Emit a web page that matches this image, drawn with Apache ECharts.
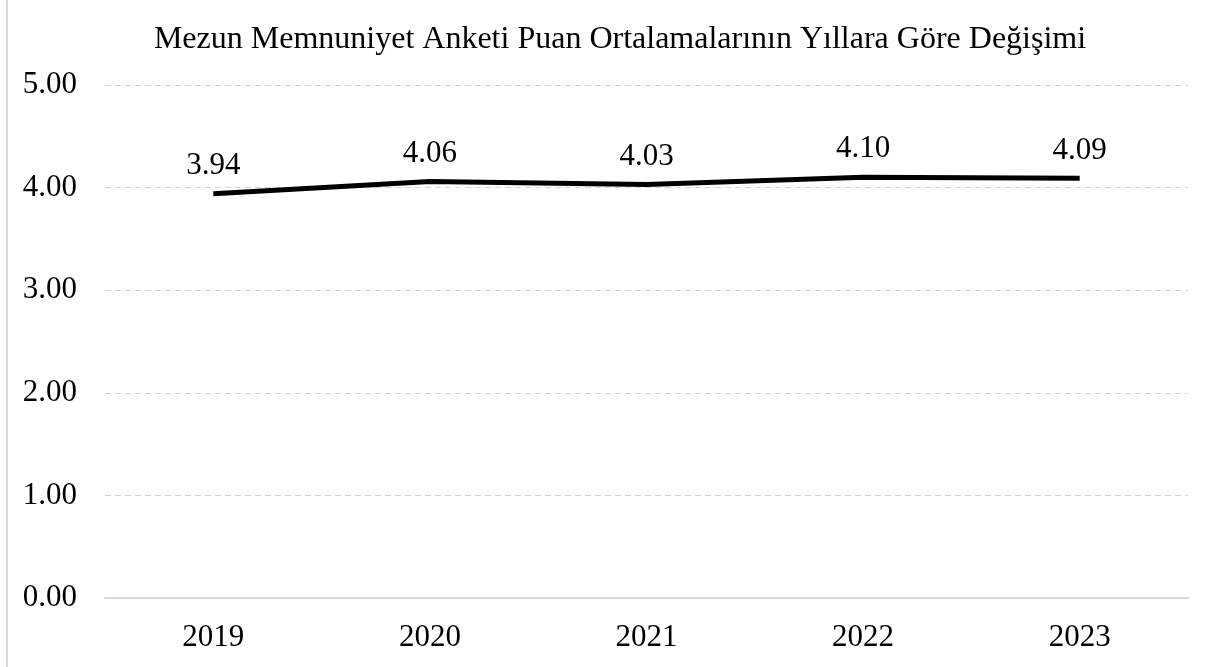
<!DOCTYPE html>
<html><head><meta charset="utf-8">
<style>html,body{margin:0;padding:0;background:#fff}#c{width:1211px;height:667px;box-sizing:border-box;}
#frame{position:absolute;left:6px;top:0;width:2px;height:667px;background:#d9d9d9}</style>
<script src="https://cdn.jsdelivr.net/npm/echarts@6/dist/echarts.min.js"></script>
</head><body><div id="c"></div><div id="frame"></div>
<script>
const title = 'Mezun Memnuniyet Anketi Puan Ortalamalarının Yıllara Göre Değişimi';
const years = ['2019', '2020', '2021', '2022', '2023'];
const scores = [3.94, 4.06, 4.03, 4.10, 4.09];
const font = '"Liberation Serif", "Times New Roman", serif';
const chart = echarts.init(document.getElementById('c'));
chart.setOption({
  animation: false,
  textStyle: {fontFamily: font},
  title: {text: title, left: 615, top: 19, textAlign: 'center',
    textStyle: {fontFamily: font, fontSize: 32, fontWeight: 'normal', color: '#000'}},
  grid: {left: 105, right: 23, top: 85, bottom: 69},
  xAxis: {type: 'category', data: years, boundaryGap: true,
    axisLine: {lineStyle: {color: '#d9d9d9', width: 2}},
    axisTick: {show: false},
    axisLabel: {color: '#000', fontSize: 31, fontFamily: font, margin: 24}},
  yAxis: {type: 'value', min: 0, max: 5, interval: 1,
    axisLine: {show: false}, axisTick: {show: false},
    axisLabel: {color: '#000', fontSize: 31, fontFamily: font, margin: 28,
      padding: [5, 0, 0, 0], formatter: v => v.toFixed(2)},
    splitLine: {lineStyle: {color: '#d4d4d4', type: [6, 4], width: 1}}},
  series: [{type: 'line', data: scores, symbol: 'circle', symbolSize: 1, showSymbol: true,
    itemStyle: {color: '#000', opacity: 0},
    lineStyle: {color: '#000', width: 5},
    label: {show: true, position: 'top', distance: 12, color: '#000', fontSize: 31,
      fontFamily: font, opacity: 1, formatter: p => p.value.toFixed(2)}}]
});
</script></body></html>
